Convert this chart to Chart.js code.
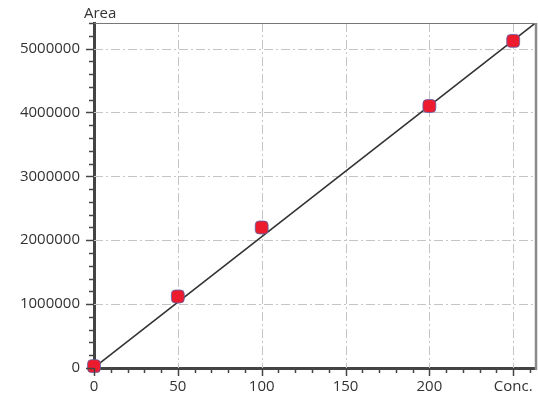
<!DOCTYPE html>
<html lang="en">
<head>
<meta charset="utf-8">
<title>Calibration</title>
<script src="https://cdn.jsdelivr.net/npm/chart.js@4/dist/chart.umd.min.js"></script>
<style>
  html, body { margin: 0; padding: 0; background: #fff; }
  #wrap { width: 538px; height: 401px; position: relative; }
</style>
</head>
<body>
<div id="wrap"><canvas id="myChart"></canvas></div>
<script>
// measured standards
const conc = [0, 50, 100, 200, 250];
const area = [30000, 1120000, 2200000, 4100000, 5120000];
// fitted line end points
const fitX = [0, 263];
const fitY = [5000, 5395000];

// axis ticks
const xTicks = [0, 50, 100, 150, 200, 250];
const xTickLabels = ['0', '50', '100', '150', '200', 'Conc.'];
const yTicks = [0, 1000000, 2000000, 3000000, 4000000, 5000000];
const yTickLabels = ['0', '1000000', '2000000', '3000000', '4000000', '5000000'];

const xMax = 263, yMax = 5400000;
const xMinor = 10, yMinor = 200000;
const yTitle = 'Area';

const FONT = '"Open Sans", sans-serif';

// grid, minor ticks, frame and the y title
const extras = {
  id: 'extras',
  beforeDatasetsDraw(chart) {
    const { ctx, chartArea: a, scales: { x, y } } = chart;
    ctx.save();
    ctx.strokeStyle = '#c4c4c4';
    ctx.lineWidth = 1;
    ctx.setLineDash([9, 3, 2, 3]);
    xTicks.slice(1).forEach(v => {
      const px = Math.round(x.getPixelForValue(v)) + 0.5;
      ctx.beginPath(); ctx.moveTo(px, a.top); ctx.lineTo(px, a.bottom); ctx.stroke();
    });
    yTicks.slice(1).forEach(v => {
      const py = Math.round(y.getPixelForValue(v)) + 0.5;
      ctx.beginPath(); ctx.moveTo(a.left, py); ctx.lineTo(a.right, py); ctx.stroke();
    });
    ctx.restore();
  },
  afterDraw(chart) {
    const { ctx, chartArea: a, scales: { x, y } } = chart;
    ctx.save();
    // frame top / right
    ctx.strokeStyle = '#777';
    ctx.lineWidth = 1;
    ctx.beginPath(); ctx.moveTo(a.left, a.top + 0.5); ctx.lineTo(a.right, a.top + 0.5); ctx.stroke();
    ctx.strokeStyle = '#8a8a8a';
    ctx.lineWidth = 2.5;
    ctx.beginPath(); ctx.moveTo(a.right + 1, a.top); ctx.lineTo(a.right + 1, a.bottom + 2); ctx.stroke();
    // ticks, major longer
    ctx.strokeStyle = '#444';
    ctx.lineWidth = 1.5;
    for (let v = 0; v <= xMax; v += xMinor) {
      const px = Math.round(x.getPixelForValue(v)) + 0.5;
      const len = xTicks.includes(v) ? 7 : 4;
      ctx.beginPath(); ctx.moveTo(px, a.bottom); ctx.lineTo(px, a.bottom + len + 1); ctx.stroke();
    }
    for (let v = 0; v <= yMax; v += yMinor) {
      const py = Math.round(y.getPixelForValue(v)) + 0.5;
      const len = yTicks.includes(v) ? 7 : 4;
      ctx.beginPath(); ctx.moveTo(a.left - len - 1, py); ctx.lineTo(a.left, py); ctx.stroke();
    }
    // y title
    ctx.fillStyle = '#333';
    ctx.font = '15px ' + FONT;
    ctx.textBaseline = 'alphabetic';
    ctx.fillText(yTitle, 84, 18);
    ctx.restore();
  }
};

new Chart(document.getElementById('myChart'), {
  type: 'scatter',
  data: {
    datasets: [{
      label: 'Standards',
      data: conc.map((c, i) => ({ x: c, y: area[i] })),
      pointStyle: 'rectRounded',
      pointRadius: 7.5,
      pointHoverRadius: 7.5,
      backgroundColor: '#ec1c2e',
      borderColor: '#5a62a8',
      borderWidth: 0.8
    }, {
      type: 'line',
      label: 'Fit',
      data: fitX.map((c, i) => ({ x: c, y: fitY[i] })),
      borderColor: '#333',
      borderWidth: 1.6,
      pointRadius: 0,
      fill: false
    }]
  },
  options: {
    responsive: true,
    maintainAspectRatio: false,
    animation: false,
    clip: false,
    layout: { autoPadding: false, padding: { top: 23, right: 3, left: 0, bottom: 0 } },
    plugins: { legend: { display: false }, tooltip: { enabled: false } },
    scales: {
      x: {
        type: 'linear',
        min: 0, max: xMax,
        grid: { display: false, drawTicks: false },
        border: { display: true, color: '#444', width: 3 },
        afterBuildTicks: s => { s.ticks = xTicks.map(v => ({ value: v })); },
        ticks: {
          padding: 0,
          color: '#333',
          font: { family: FONT, size: 15, lineHeight: 2.5 },
          maxRotation: 0,
          autoSkip: false,
          callback: (v, i) => xTickLabels[i]
        },
        afterFit: s => { s.height = 33; }
      },
      y: {
        type: 'linear',
        min: 0, max: yMax,
        grid: { display: false, drawTicks: false },
        border: { display: true, color: '#444', width: 3 },
        afterBuildTicks: s => { s.ticks = yTicks.map(v => ({ value: v })); },
        ticks: {
          padding: 14,
          color: '#333',
          autoSkip: false,
          font: { family: FONT, size: 15 },
          callback: (v, i) => yTickLabels[i]
        },
        afterFit: s => { s.width = 94; }
      }
    }
  },
  plugins: [extras]
});
</script>
</body>
</html>
